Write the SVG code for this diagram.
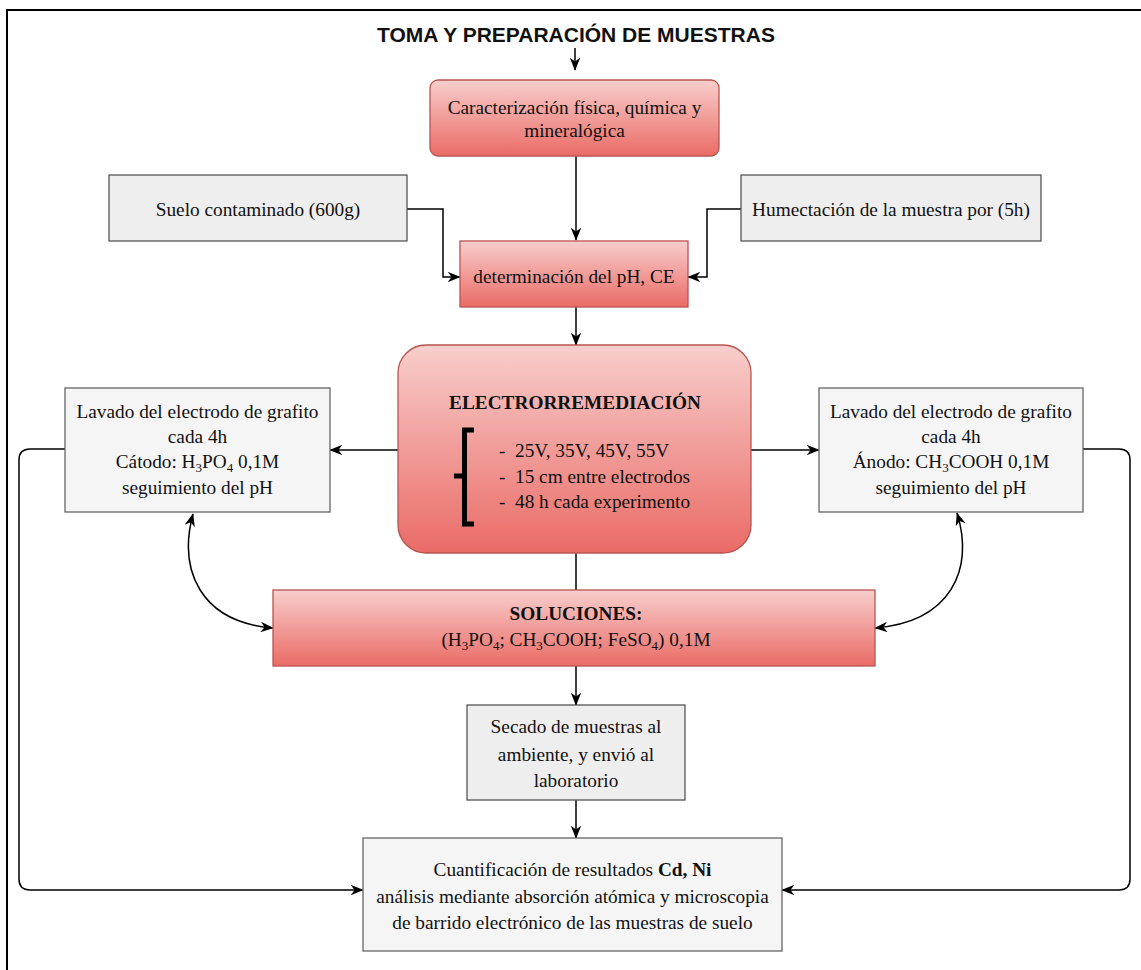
<svg xmlns="http://www.w3.org/2000/svg" width="1141" height="970" viewBox="0 0 1141 970">
<defs>
<linearGradient id="red" x1="0" y1="0" x2="0" y2="1">
<stop offset="0" stop-color="#f8cecc"/>
<stop offset="1" stop-color="#ea6b66"/>
</linearGradient>
<marker id="arr" viewBox="0 0 10 8" refX="9.5" refY="4" markerWidth="13" markerHeight="10.5" markerUnits="userSpaceOnUse" orient="auto-start-reverse">
<path d="M0,0 L10,4 L0,8 L3,4 Z" fill="#000"/>
</marker>
</defs>
<style>
.red{fill:url(#red);stroke:#b85450;stroke-width:1.3}
.gray{fill:#eeeeee;stroke:#555;stroke-width:1.3}
.light{fill:#f5f5f5;stroke:#666;stroke-width:1.3}
.t{font-family:"Liberation Serif","Times New Roman",serif;font-size:19.3px;fill:#111;text-anchor:middle}
.b{font-weight:bold}
.l{text-anchor:start}
.e{fill:none;stroke:#000;stroke-width:1.5}
.sub{font-size:13px}
</style>
<rect width="1141" height="970" fill="#fff"/>
<g id="frame" fill="none" stroke="#000" stroke-width="2">
<path d="M7,970 L7,10 L1141,10"/>
</g>
<g id="title">
<text x="576" y="42" style="font-family:'Liberation Sans',Arial,sans-serif;font-size:21px;font-weight:bold;text-anchor:middle;fill:#111">TOMA Y PREPARACIÓN DE MUESTRAS</text>
</g>
<g id="connectors">
<path class="e" d="M575,48 L575,70" marker-end="url(#arr)"/>
<path class="e" d="M576,156 L576,240" marker-end="url(#arr)"/>
<path class="e" d="M407,209 L443,209 L443,277 L460,277" marker-end="url(#arr)"/>
<path class="e" d="M741,209 L707,209 L707,277 L688,277" marker-end="url(#arr)"/>
<path class="e" d="M576,307 L576,345" marker-end="url(#arr)"/>
<path class="e" d="M398,450 L330,450" marker-end="url(#arr)"/>
<path class="e" d="M751,450 L819,450" marker-end="url(#arr)"/>
<path class="e" d="M576,553 L576,590"/>
<path class="e" d="M193,514 C178,570 200,622 273,628" marker-start="url(#arr)" marker-end="url(#arr)"/>
<path class="e" d="M957,513 C975,570 950,622 875,628" marker-start="url(#arr)" marker-end="url(#arr)"/>
<path class="e" d="M576,666 L576,705" marker-end="url(#arr)"/>
<path class="e" d="M576,800 L576,838" marker-end="url(#arr)"/>
<path class="e" d="M65,449 L30,449 Q19,449 19,460 L19,879 Q19,890 30,890 L363,890" marker-end="url(#arr)"/>
<path class="e" d="M1083,449 L1119,449 Q1130,449 1130,460 L1130,879 Q1130,890 1119,890 L782,890" marker-end="url(#arr)"/>
</g>
<g id="caracterizacion">
<rect class="red" x="430" y="80" width="289" height="76" rx="8"/>
<text class="t" x="574.5" y="114">Caracterización física, química y</text>
<text class="t" x="574.5" y="137">mineralógica</text>
</g>
<g id="suelo">
<rect class="gray" x="109" y="175" width="298" height="66"/>
<text class="t" x="258" y="216">Suelo contaminado (600g)</text>
</g>
<g id="humectacion">
<rect class="gray" x="741" y="175" width="300" height="66"/>
<text class="t" x="891" y="216">Humectación de la muestra por (5h)</text>
</g>
<g id="determinacion">
<rect class="red" x="460" y="241" width="228" height="66"/>
<text class="t" x="574" y="283">determinación del pH, CE</text>
</g>
<g id="electrorremediacion">
<rect class="red" x="398" y="345" width="353" height="208" rx="28"/>
<text class="t b" x="575" y="409">ELECTRORREMEDIACIÓN</text>
<path d="M474,430 L464.5,430 L464.5,524 L474,524 M464.5,476 L454,476" fill="none" stroke="#000" stroke-width="5"/>
<text class="t l" x="499" y="457">-</text>
<text class="t l" x="515" y="457">25V, 35V, 45V, 55V</text>
<text class="t l" x="499" y="483">-</text>
<text class="t l" x="515" y="483">15 cm entre electrodos</text>
<text class="t l" x="499" y="508">-</text>
<text class="t l" x="515" y="508">48 h cada experimento</text>
</g>
<g id="lavado-catodo">
<rect class="light" x="65" y="388" width="265" height="124"/>
<text class="t" x="197.5" y="418">Lavado del electrodo de grafito</text>
<text class="t" x="197.5" y="443">cada 4h</text>
<text class="t" x="197.5" y="468">Cátodo: H<tspan class="sub" dy="4">3</tspan><tspan dy="-4">PO</tspan><tspan class="sub" dy="4">4</tspan><tspan dy="-4"> 0,1M</tspan></text>
<text class="t" x="197.5" y="494">seguimiento del pH</text>
</g>
<g id="lavado-anodo">
<rect class="light" x="819" y="388" width="264" height="124"/>
<text class="t" x="951" y="418">Lavado del electrodo de grafito</text>
<text class="t" x="951" y="443">cada 4h</text>
<text class="t" x="951" y="468">Ánodo: CH<tspan class="sub" dy="4">3</tspan><tspan dy="-4">COOH 0,1M</tspan></text>
<text class="t" x="951" y="494">seguimiento del pH</text>
</g>
<g id="soluciones">
<rect class="red" x="273" y="590" width="602" height="76"/>
<text class="t b" x="576" y="620">SOLUCIONES:</text>
<text class="t" x="576" y="646">(H<tspan class="sub" dy="4">3</tspan><tspan dy="-4">PO</tspan><tspan class="sub" dy="4">4</tspan><tspan dy="-4">; CH</tspan><tspan class="sub" dy="4">3</tspan><tspan dy="-4">COOH; FeSO</tspan><tspan class="sub" dy="4">4</tspan><tspan dy="-4">) 0,1M</tspan></text>
</g>
<g id="secado">
<rect class="gray" x="467" y="705" width="218" height="95"/>
<text class="t" x="576" y="733">Secado de muestras al</text>
<text class="t" x="576" y="761">ambiente, y envió al</text>
<text class="t" x="576" y="787">laboratorio</text>
</g>
<g id="cuantificacion">
<rect class="light" x="363" y="838" width="419" height="113"/>
<text class="t" x="572.5" y="876">Cuantificación de resultados <tspan class="b">Cd, Ni</tspan></text>
<text class="t" x="572.5" y="903">análisis mediante absorción atómica y microscopia</text>
<text class="t" x="572.5" y="929">de barrido electrónico de las muestras de suelo</text>
</g>
</svg>
